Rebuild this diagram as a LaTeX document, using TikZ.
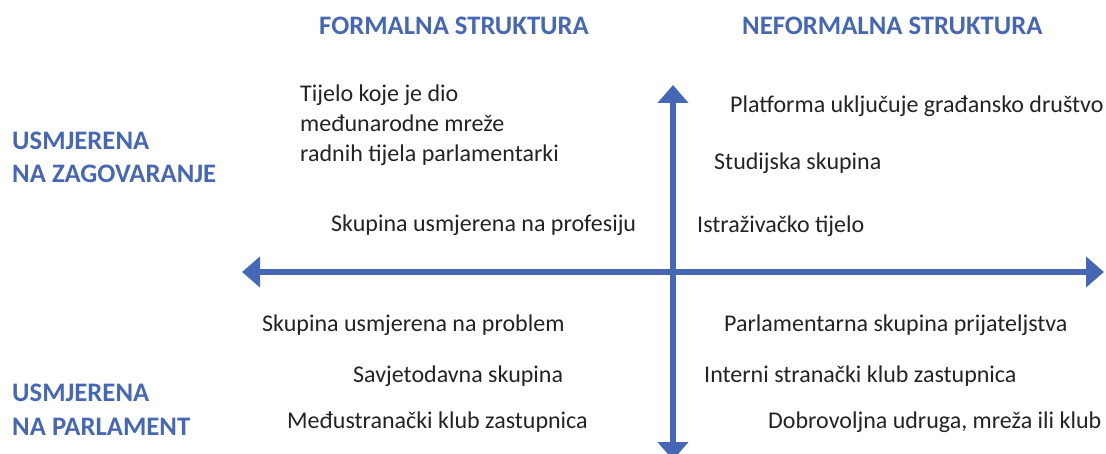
\documentclass[tikz,border=0pt]{standalone}
\usepackage{fontspec}
\setmainfont{Carlito}
\usetikzlibrary{arrows.meta}
\definecolor{hdblue}{RGB}{70,103,181}
\definecolor{axblue}{RGB}{70,103,181}
\definecolor{txt}{RGB}{35,35,35}
\tikzset{
  hd/.style={text=hdblue, font=\fontsize{26.7}{33.5}\selectfont\bfseries, inner sep=0pt, align=left, anchor=base west},
  lbl/.style={text=txt, font=\fontsize{24}{30}\selectfont, inner sep=0pt, align=left, anchor=base west},
  axis/.style={draw=axblue, line width=6pt, -{Triangle[width=30pt,length=18pt]}}
}
\begin{document}
\begin{tikzpicture}[x=1pt,y=-1pt]
\useasboundingbox (0,0) rectangle (1106,454);
\clip (0,0) rectangle (1106,454);
\coordinate (c) at (673,272);
\coordinate (top) at (673,85);
\coordinate (bot) at (673,460);
\coordinate (lft) at (242,272);
\coordinate (rgt) at (1104,272);
\draw[axis] (c) -- (top);
\draw[axis] (c) -- (bot);
\draw[axis] (c) -- (lft);
\draw[axis] (c) -- (rgt);

% base west of a multi-line node is the baseline of its last line
\node[hd] (f) at (319,35) {FORMALNA STRUKTURA};
\node[hd] (nf) at (742,35) {NEFORMALNA STRUKTURA};
\node[hd] (z) at (12,183) {USMJERENA\\NA ZAGOVARANJE};
\node[hd] (p) at (12,435) {USMJERENA\\NA PARLAMENT};

\node[lbl] (a1) at (300,162) {Tijelo koje je dio\\međunarodne mreže\\radnih tijela parlamentarki};
\node[lbl] (a2) at (331,232) {Skupina usmjerena na profesiju};
\node[lbl] (b1) at (730,113) {Platforma uključuje građansko društvo};
\node[lbl] (b2) at (714,170) {Studijska skupina};
\node[lbl] (b3) at (697,233) {Istraživačko tijelo};
\node[lbl] (c1) at (262,331) {Skupina usmjerena na problem};
\node[lbl] (c2) at (353,382) {Savjetodavna skupina};
\node[lbl] (c3) at (287,428) {Međustranački klub zastupnica};
\node[lbl] (d1) at (724,332) {Parlamentarna skupina prijateljstva};
\node[lbl] (d2) at (704,382) {Interni stranački klub zastupnica};
\node[lbl] (d3) at (768,428) {Dobrovoljna udruga, mreža ili klub};
\end{tikzpicture}
\end{document}
